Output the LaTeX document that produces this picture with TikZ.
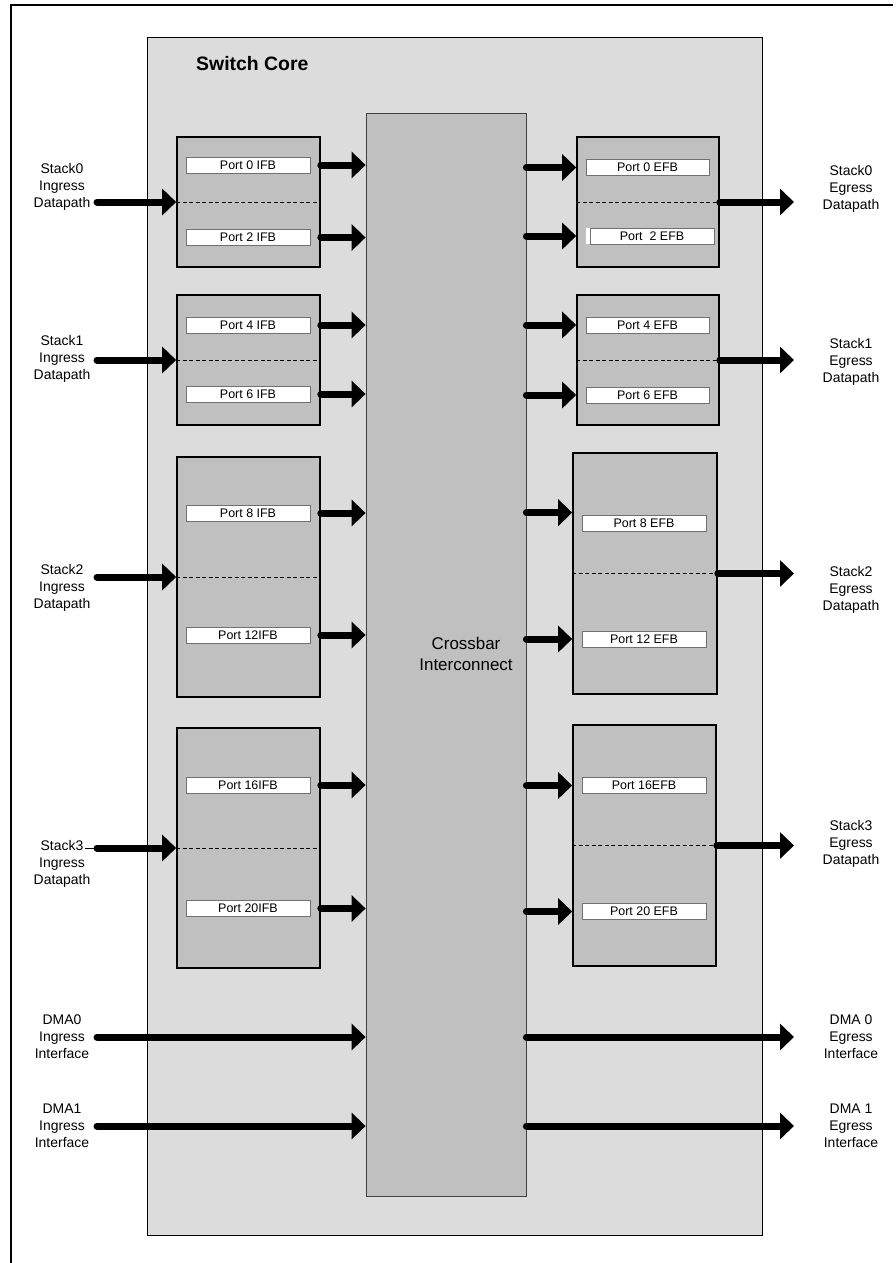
\documentclass[tikz,border=0pt]{standalone}
\usepackage{fontspec}
\setmainfont{Liberation Sans}
\usetikzlibrary{arrows.meta}

\definecolor{coregray}{HTML}{DCDCDC}
\definecolor{blkgray}{HTML}{C0C0C0}
\definecolor{portline}{HTML}{707070}

\tikzset{
  core/.style={draw=black, line width=1bp, fill=coregray, inner sep=0pt},
  xbar/.style={draw=black!75, line width=0.8bp, fill=blkgray, inner sep=0pt},
  blk/.style={draw=black, line width=1.6bp, fill=blkgray, inner sep=0pt, minimum width=143bp},
  port/.style={draw=portline, line width=0.8bp, fill=white, inner sep=0pt,
    minimum width=124bp, minimum height=16bp, font=\fontsize{12.5}{14}\selectfont},
  split/.style={black, line width=0.9bp, dash pattern=on 4bp off 2.5bp},
  bus/.style={line width=7bp, line cap=round, -{Triangle[length=14bp,width=26bp]}},
  lbl/.style={align=center, inner sep=0pt, font=\fontsize{14}{17}\selectfont},
  title/.style={inner sep=0pt, font=\fontsize{19.5}{22}\selectfont\bfseries},
  xbartext/.style={align=center, inner sep=0pt, font=\fontsize{17}{21}\selectfont}
}

\begin{document}
\begin{tikzpicture}[x=1bp, y=-1bp]
  \useasboundingbox (0,0) rectangle (896,1263);

  \draw[line width=2bp] (893,5) -- (11,5) -- (11,1263);

  \node[core, minimum width=614bp, minimum height=1197bp] (core) at (455,636.5) {};
  \node[title, anchor=west] (title) at (196,64) {Switch Core};

  \node[xbar, minimum width=160bp, minimum height=1083bp] (xbar) at (446,654.5) {};
  \node[xbartext] (xbarlbl) at (466,654) {Crossbar\\Interconnect};

  % ingress blocks
  \node[blk, minimum height=130bp] (ib0) at (248.5,202) {};
  \node[blk, minimum height=130bp] (ib1) at (248.5,360) {};
  \node[blk, minimum height=240bp] (ib2) at (248.5,577) {};
  \node[blk, minimum height=240bp] (ib3) at (248.5,848) {};

  \node[port] (ip0) at (248,165) {Port 0 IFB};
  \node[port] (ip2) at (248,237.5) {Port 2 IFB};
  \node[port] (ip4) at (248,325) {Port 4 IFB};
  \node[port] (ip6) at (248,394) {Port 6 IFB};
  \node[port] (ip8) at (248,513) {Port 8 IFB};
  \node[port] (ip12) at (248,635) {Port 12IFB};
  \node[port] (ip16) at (248,785) {Port 16IFB};
  \node[port] (ip20) at (248,908.5) {Port 20IFB};

  \draw[split] (ib0.west) -- (ib0.east);
  \draw[split] (ib1.west) -- (ib1.east);
  \draw[split] (ib2.west) -- (ib2.east);
  \draw[split] (ib3.west) -- (ib3.east);

  \draw[bus] (ib0.east |- ip0) -- (xbar.west |- ip0);
  \draw[bus] (ib0.east |- ip2) -- (xbar.west |- ip2);
  \draw[bus] (ib1.east |- ip4) -- (xbar.west |- ip4);
  \draw[bus] (ib1.east |- ip6) -- (xbar.west |- ip6);
  \draw[bus] (ib2.east |- ip8) -- (xbar.west |- ip8);
  \draw[bus] (ib2.east |- ip12) -- (xbar.west |- ip12);
  \draw[bus] (ib3.east |- ip16) -- (xbar.west |- ip16);
  \draw[bus] (ib3.east |- ip20) -- (xbar.west |- ip20);

  % egress blocks
  \node[blk, minimum width=142bp, minimum height=130bp] (eb0) at (648,202) {};
  \node[blk, minimum width=142bp, minimum height=130bp] (eb1) at (648,360) {};
  \node[blk, minimum width=144bp, minimum height=241bp] (eb2) at (645,573.5) {};
  \node[blk, minimum width=143bp, minimum height=241bp] (eb3) at (644.5,845.5) {};

  \node[port, minimum width=123bp] (ep0) at (647.5,167.5) {Port 0 EFB};
  \fill[white] (586,228) rectangle (590,244);
  \node[port] (ep2) at (652,236) {Port\ \ 2 EFB};
  \node[port, minimum width=123bp] (ep4) at (647.5,325) {Port 4 EFB};
  \node[port, minimum width=123bp] (ep6) at (647.5,395) {Port 6 EFB};
  \node[port] (ep8) at (644,523) {Port 8 EFB};
  \node[port] (ep12) at (644,639) {Port 12 EFB};
  \node[port] (ep16) at (644,785.5) {Port 16EFB};
  \node[port] (ep20) at (644,911.5) {Port 20 EFB};
  \coordinate (e8) at ([yshift=2bp]ep8.north);

  \draw[split] (eb0.west) -- (eb0.east);
  \draw[split] (eb1.west) -- (eb1.east);
  \draw[split] (eb2.west) -- (eb2.east);
  \draw[split] (eb3.west) -- (eb3.east);

  \draw[bus] (xbar.east |- ep0) -- (eb0.west |- ep0);
  \draw[bus] (xbar.east |- ep2) -- (eb0.west |- ep2);
  \draw[bus] (xbar.east |- ep4) -- (eb1.west |- ep4);
  \draw[bus] (xbar.east |- ep6) -- (eb1.west |- ep6);
  \draw[bus] (xbar.east |- e8) -- (eb2.west |- e8);
  \draw[bus] (xbar.east |- ep12) -- (eb2.west |- ep12);
  \draw[bus] (xbar.east |- ep16) -- (eb3.west |- ep16);
  \draw[bus] (xbar.east |- ep20) -- (eb3.west |- ep20);

  % outside labels and datapaths
  \node[lbl] (is0) at (62,187) {Stack0\\Ingress\\Datapath};
  \node[lbl] (is1) at (62,359) {Stack1\\Ingress\\Datapath};
  \node[lbl] (is2) at (62,588) {Stack2\\Ingress\\Datapath};
  \node[lbl] (is3) at (62,864) {Stack3\\Ingress\\Datapath};
  \node[lbl] (id0) at (62,1037) {DMA0\\Ingress\\Interface};
  \node[lbl] (id1) at (62,1126) {DMA1\\Ingress\\Interface};

  \node[lbl] (es0) at (851,189) {Stack0\\Egress\\Datapath};
  \node[lbl] (es1) at (851,362) {Stack1\\Egress\\Datapath};
  \node[lbl] (es2) at (851,590) {Stack2\\Egress\\Datapath};
  \node[lbl] (es3) at (851,844) {Stack3\\Egress\\Datapath};
  \node[lbl] (ed0) at (851,1037) {DMA 0\\Egress\\Interface};
  \node[lbl] (ed1) at (851,1126) {DMA 1\\Egress\\Interface};

  \coordinate (in0) at (97,202);
  \coordinate (in1) at (97,360);
  \coordinate (in2) at (97,577);
  \coordinate (in3) at (97,848);
  \coordinate (st3) at (85,848);
  \coordinate (ind0) at (97,1037);
  \coordinate (ind1) at (97,1126);
  \coordinate (out0) at (794,202);
  \coordinate (out1) at (794,360);
  \coordinate (out2) at (794,573.5);
  \coordinate (out3) at (794,845.5);
  \coordinate (outd0) at (794,1037);
  \coordinate (outd1) at (794,1126);

  \draw[bus] (in0) -- (ib0.west);
  \draw[bus] (in1) -- (ib1.west);
  \draw[bus] (in2) -- (ib2.west);
  \draw[line width=0.8bp] (st3) -- (in3);
  \draw[bus] (in3) -- (ib3.west);
  \draw[bus] (ind0) -- (xbar.west |- ind0);
  \draw[bus] (ind1) -- (xbar.west |- ind1);

  \draw[bus] (eb0.east) -- (out0);
  \draw[bus] (eb1.east) -- (out1);
  \draw[bus] (eb2.east) -- (out2);
  \draw[bus] (eb3.east) -- (out3);
  \draw[bus] (xbar.east |- outd0) -- (outd0);
  \draw[bus] (xbar.east |- outd1) -- (outd1);

\end{tikzpicture}
\end{document}
